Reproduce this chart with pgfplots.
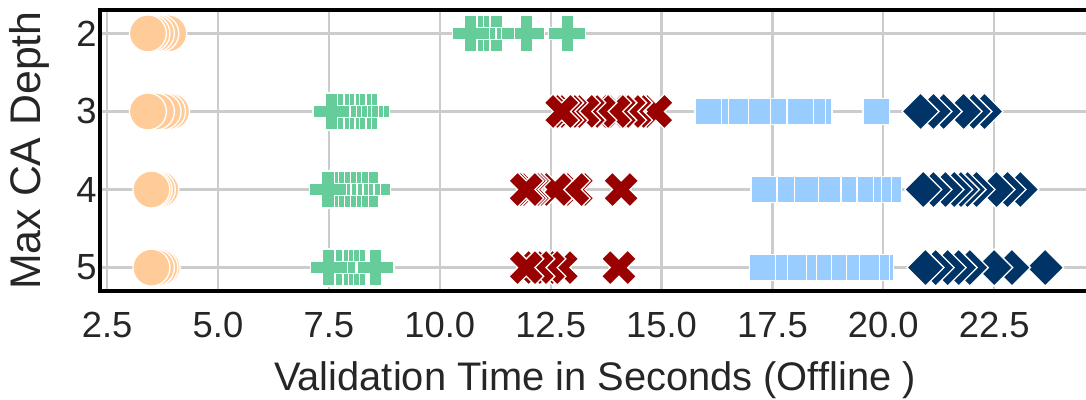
\documentclass[border=0pt]{standalone}
\usepackage{fontspec}
\setmainfont{Liberation Sans}
\usepackage{pgfplots}
\pgfplotsset{compat=1.18}
\definecolor{peach}{HTML}{FFCC99}
\definecolor{mint}{HTML}{66CC99}
\definecolor{darkred}{HTML}{990000}
\definecolor{skyblue}{HTML}{99CCFF}
\definecolor{navy}{HTML}{003366}
\definecolor{gridgrey}{HTML}{CCCCCC}
\definecolor{textgrey}{HTML}{262626}

% filled plus, filled x, square and diamond in the matplotlib proportions
\pgfdeclareplotmark{Pfill}{%
  \pgfpathmoveto{\pgfqpoint{-0.3333\pgfplotmarksize}{-\pgfplotmarksize}}%
  \pgfpathlineto{\pgfqpoint{0.3333\pgfplotmarksize}{-\pgfplotmarksize}}%
  \pgfpathlineto{\pgfqpoint{0.3333\pgfplotmarksize}{-0.3333\pgfplotmarksize}}%
  \pgfpathlineto{\pgfqpoint{\pgfplotmarksize}{-0.3333\pgfplotmarksize}}%
  \pgfpathlineto{\pgfqpoint{\pgfplotmarksize}{0.3333\pgfplotmarksize}}%
  \pgfpathlineto{\pgfqpoint{0.3333\pgfplotmarksize}{0.3333\pgfplotmarksize}}%
  \pgfpathlineto{\pgfqpoint{0.3333\pgfplotmarksize}{\pgfplotmarksize}}%
  \pgfpathlineto{\pgfqpoint{-0.3333\pgfplotmarksize}{\pgfplotmarksize}}%
  \pgfpathlineto{\pgfqpoint{-0.3333\pgfplotmarksize}{0.3333\pgfplotmarksize}}%
  \pgfpathlineto{\pgfqpoint{-\pgfplotmarksize}{0.3333\pgfplotmarksize}}%
  \pgfpathlineto{\pgfqpoint{-\pgfplotmarksize}{-0.3333\pgfplotmarksize}}%
  \pgfpathlineto{\pgfqpoint{-0.3333\pgfplotmarksize}{-0.3333\pgfplotmarksize}}%
  \pgfpathclose\pgfusepathqfillstroke}
\pgfdeclareplotmark{Xfill}{%
  \pgfpathmoveto{\pgfqpoint{0.4714\pgfplotmarksize}{-0.9428\pgfplotmarksize}}%
  \pgfpathlineto{\pgfqpoint{0.9428\pgfplotmarksize}{-0.4714\pgfplotmarksize}}%
  \pgfpathlineto{\pgfqpoint{0.4714\pgfplotmarksize}{0pt}}%
  \pgfpathlineto{\pgfqpoint{0.9428\pgfplotmarksize}{0.4714\pgfplotmarksize}}%
  \pgfpathlineto{\pgfqpoint{0.4714\pgfplotmarksize}{0.9428\pgfplotmarksize}}%
  \pgfpathlineto{\pgfqpoint{0pt}{0.4714\pgfplotmarksize}}%
  \pgfpathlineto{\pgfqpoint{-0.4714\pgfplotmarksize}{0.9428\pgfplotmarksize}}%
  \pgfpathlineto{\pgfqpoint{-0.9428\pgfplotmarksize}{0.4714\pgfplotmarksize}}%
  \pgfpathlineto{\pgfqpoint{-0.4714\pgfplotmarksize}{0pt}}%
  \pgfpathlineto{\pgfqpoint{-0.9428\pgfplotmarksize}{-0.4714\pgfplotmarksize}}%
  \pgfpathlineto{\pgfqpoint{-0.4714\pgfplotmarksize}{-0.9428\pgfplotmarksize}}%
  \pgfpathlineto{\pgfqpoint{0pt}{-0.4714\pgfplotmarksize}}%
  \pgfpathclose\pgfusepathqfillstroke}
\pgfdeclareplotmark{Sfill}{%
  \pgfpathrectangle{\pgfqpoint{-0.7071\pgfplotmarksize}{-0.7071\pgfplotmarksize}}%
    {\pgfqpoint{1.4142\pgfplotmarksize}{1.4142\pgfplotmarksize}}%
  \pgfusepathqfillstroke}
\pgfdeclareplotmark{Dfill}{%
  \pgfpathmoveto{\pgfqpoint{0pt}{-\pgfplotmarksize}}%
  \pgfpathlineto{\pgfqpoint{\pgfplotmarksize}{0pt}}%
  \pgfpathlineto{\pgfqpoint{0pt}{\pgfplotmarksize}}%
  \pgfpathlineto{\pgfqpoint{-\pgfplotmarksize}{0pt}}%
  \pgfpathclose\pgfusepathqfillstroke}

\pgfplotsset{
  strip/.style n args={2}{only marks, mark=#1, mark size=18.5bp,
    mark options={fill=#2, draw=white, line width=1.3bp}},
}

\begin{document}
\begin{tikzpicture}
\begin{axis}[
  at={(100bp,109bp)}, anchor=south west,
  width=990bp, height=281bp, scale only axis,
  xmin=2.34, xmax=24.66, ymin=1.7, ymax=5.3, y dir=reverse,
  xtick={2.5,5,7.5,10,12.5,15,17.5,20,22.5},
  ytick={2,3,4,5},
  /pgf/number format/assume math mode=true,
  tick label style={font=\fontsize{36.5}{40}\selectfont, text=textgrey},
  xticklabel style={yshift=-18bp, /pgf/number format/.cd, fixed, fixed zerofill, precision=1},
  label style={font=\fontsize{40}{46}\selectfont, text=textgrey},
  xlabel={Validation Time in Seconds (Offline )},
  xlabel style={yshift=-17bp},
  ylabel={Max CA Depth},
  ylabel style={font=\fontsize{43}{48}\selectfont, yshift=20bp},
  major tick length=0pt,
  grid=major, major grid style={draw=gridgrey, line width=2.2bp},
  axis line style={black, line width=3.5bp},
  clip=false,
]
% circles
\addplot[strip={*}{peach}] table {
x y
3.88 2
3.70 2
3.60 2
3.50 2
3.42 2
3.94 3
3.85 3
3.75 3
3.60 3
3.42 3
3.70 4
3.62 4
3.55 4
3.50 4
3.73 5
3.68 5
3.60 5
3.50 5
};
% filled plus
\addplot[strip={Pfill}{mint}] table {
x y
12.87 2
11.95 2
11.27 2
10.98 2
10.85 2
10.70 2
8.45 3
8.32 3
8.20 3
8.05 3
7.95 3
7.82 3
7.70 3
7.56 3
8.48 4
8.25 4
8.10 4
7.98 4
7.85 4
7.72 4
7.58 4
7.48 4
8.20 5
8.05 5
7.92 5
7.80 5
7.68 5
7.50 5
8.55 5
};
% filled x
\addplot[strip={Xfill}{darkred}] table {
x y
14.87 3
14.40 3
14.27 3
14.05 3
13.93 3
13.60 3
13.35 3
13.23 3
12.95 3
12.85 3
12.75 3
14.09 4
13.08 4
13.00 4
12.60 4
12.09 4
12.02 4
11.95 4
14.04 5
12.74 5
12.45 5
12.20 5
11.95 5
};
% squares
\addplot[strip={Sfill}{skyblue}] table {
x y
19.84 3
18.55 3
18.40 3
18.13 3
17.52 3
17.16 3
16.66 3
16.21 3
16.05 3
20.12 4
19.89 4
19.67 4
19.49 4
19.11 4
18.75 4
18.25 4
17.71 4
17.31 4
19.94 5
19.85 5
19.62 5
19.17 5
18.88 5
18.54 5
18.20 5
17.98 5
17.55 5
17.28 5
};
% diamonds
\addplot[strip={Dfill}{navy}] table {
x y
22.28 3
22.03 3
21.81 3
21.36 3
21.13 3
20.84 3
23.09 4
22.80 4
22.55 4
22.10 4
21.90 4
21.75 4
21.60 4
21.40 4
21.13 4
20.90 4
23.65 5
22.90 5
22.50 5
21.95 5
21.70 5
21.45 5
21.18 5
20.95 5
};
\end{axis}
\pgfresetboundingbox
\path[use as bounding box] (0,0) rectangle (1086bp,400bp);
\end{tikzpicture}
\end{document}
